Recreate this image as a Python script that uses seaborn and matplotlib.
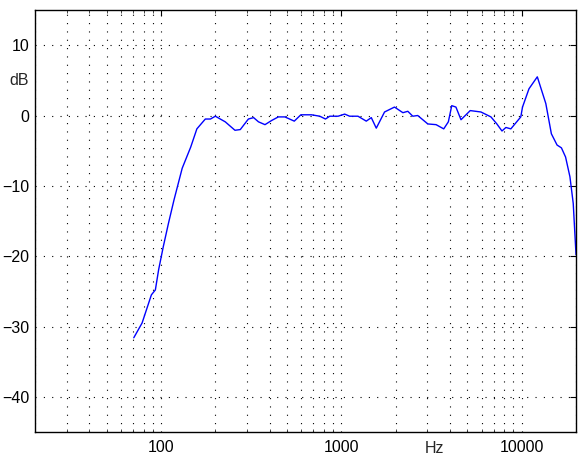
import numpy as np
import pandas as pd
import matplotlib
matplotlib.use("Agg")
import matplotlib.pyplot as plt
import matplotlib.ticker as mticker
import seaborn as sns

# Frequency response (Hz, dB)
freq_hz = [70.6, 78.5, 88.4, 93, 97, 103, 110, 118, 131, 146, 158, 176, 188, 200,
           227, 257, 275, 305, 326, 347, 377, 411, 447, 486, 548, 596, 683, 759,
           816, 862, 959, 1043, 1111, 1236, 1374, 1465, 1561, 1735, 1970, 2193,
           2335, 2488, 2650, 3015, 3350, 3694, 3918, 4092, 4316, 4605, 5181, 5940,
           6750, 7280, 7770, 8170, 8700, 9880, 10100, 10970, 12200, 13600, 14600,
           15700, 16600, 17500, 18500, 19300, 20000]
level_db = [-31.6, -29.5, -25.5, -24.8, -21.9, -18.6, -15.3, -12.0, -7.5, -4.5,
            -1.9, -0.5, -0.5, -0.1, -0.9, -2.1, -2.0, -0.5, -0.3, -0.9, -1.3, -0.7,
            -0.2, -0.2, -0.8, 0.1, 0.1, -0.1, -0.5, -0.1, -0.1, 0.2, -0.1, -0.1,
            -0.8, -0.3, -1.8, 0.5, 1.2, 0.4, 0.6, -0.1, 0.0, -1.2, -1.3, -1.9, -0.9,
            1.4, 1.2, -0.6, 0.7, 0.5, -0.2, -1.2, -2.2, -1.7, -1.9, -0.2, 1.2, 3.8,
            5.5, 1.7, -2.6, -4.2, -4.6, -5.9, -8.7, -12.5, -19.8]

x_ticks = [100, 1000, 10000]
x_tick_labels = ["100", "1000", "10000"]
y_ticks = [-40, -30, -20, -10, 0, 10]

df = pd.DataFrame({"freq": freq_hz, "db": level_db})

sns.set_style("white")
plt.rcParams["font.family"] = ["Liberation Sans", "DejaVu Sans"]

fig = plt.figure(figsize=(5.87, 4.57), dpi=100)
ax = fig.add_axes([0.0596, 0.0547, 0.9217, 0.9234])

sns.lineplot(data=df, x="freq", y="db", color="#0000ff", linewidth=1.0,
             sort=False, ax=ax)

ax.set_xscale("log")
ax.set_xlim(20, 20000)
ax.set_ylim(-45, 15)
ax.set_xticks(x_ticks)
ax.set_xticklabels(x_tick_labels)
ax.xaxis.set_minor_locator(mticker.LogLocator(base=10, subs=np.arange(2, 10)))
ax.xaxis.set_minor_formatter(mticker.NullFormatter())
ax.set_yticks(y_ticks)
ax.set_yticklabels([f"{v}".replace("-", "\u2212") for v in y_ticks])
ax.set_xlabel("")
ax.set_ylabel("")

dots = dict(color="black", linewidth=0.8, linestyle=(0, (1, 6.5)))
ax.grid(True, which="major", axis="both", **dots)
ax.grid(True, which="minor", axis="x", **dots)

ax.tick_params(which="major", direction="in", length=4, width=0.8,
               top=True, right=True, labelsize=11.5, colors="black")
ax.tick_params(axis="x", which="major", pad=6)
ax.tick_params(axis="y", which="major", pad=4)
ax.tick_params(which="minor", direction="in", length=2, width=0.6,
               top=True, bottom=True)
for s in ax.spines.values():
    s.set_color("black")
    s.set_linewidth(1.0)

# axis unit labels placed like in the original
ax.text(-0.012, 5, "dB", transform=ax.get_yaxis_transform(), ha="right",
        va="center", fontsize=11.5)
ax.text(3300, -0.022, "Hz", transform=ax.get_xaxis_transform(), ha="center",
        va="top", fontsize=11.5)

fig.savefig("out.png", dpi=100)
